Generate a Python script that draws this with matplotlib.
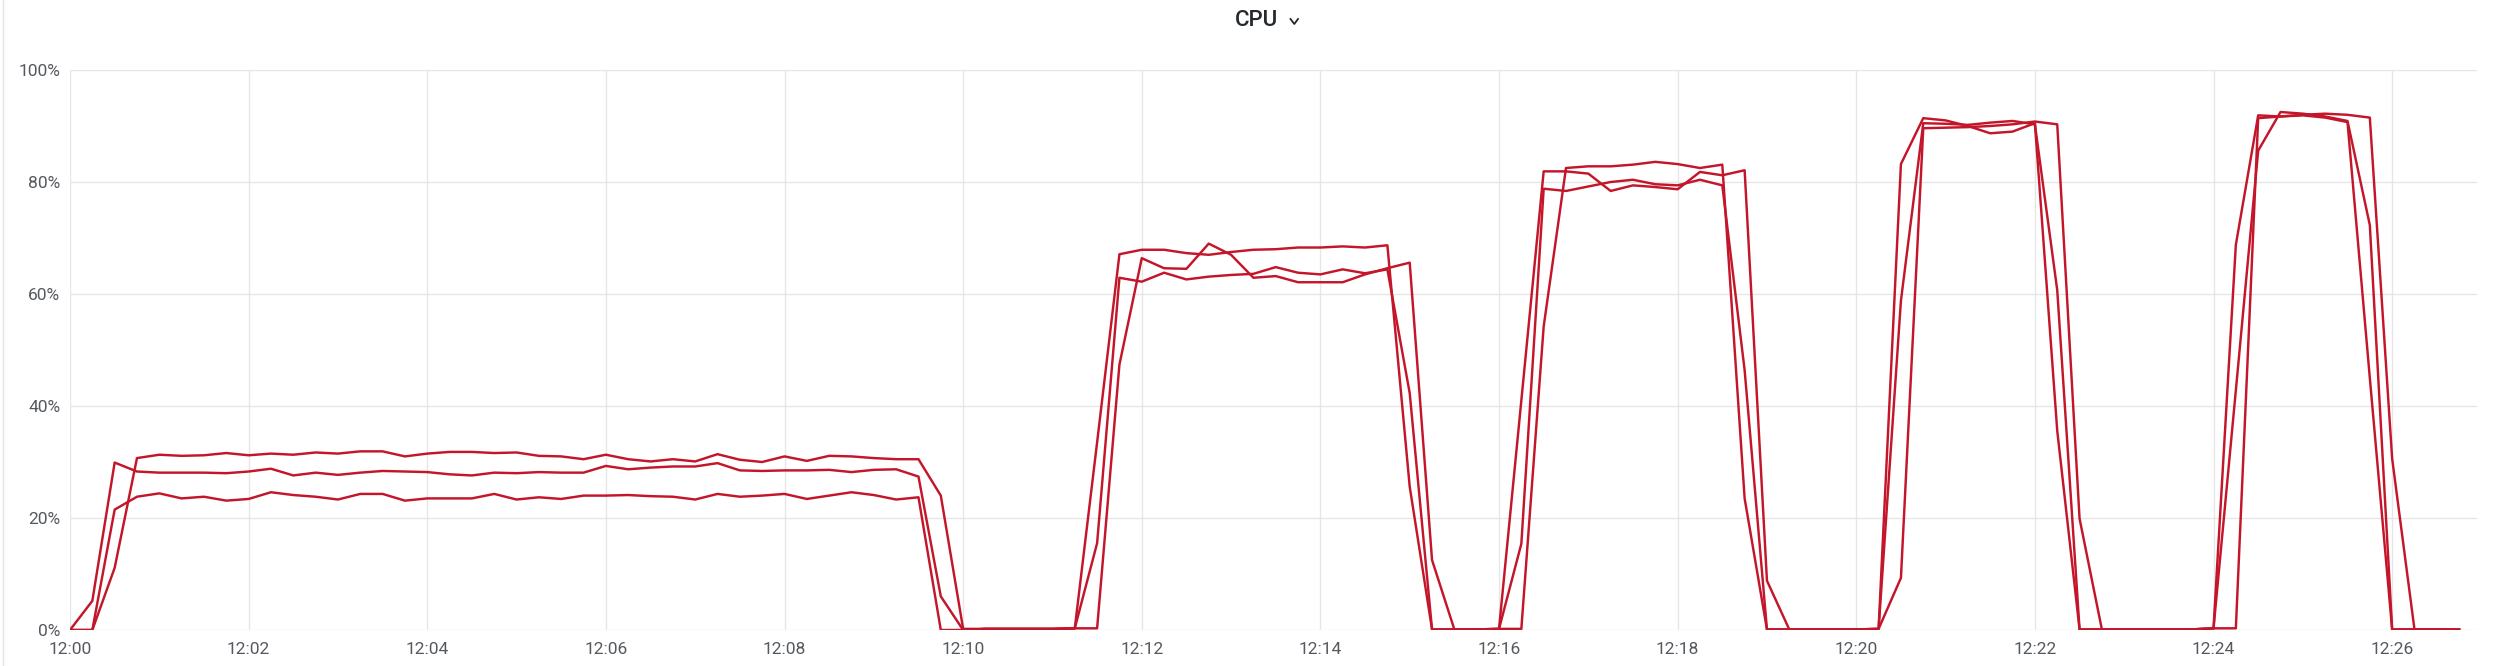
import numpy as np
import pandas as pd
import matplotlib
matplotlib.use("Agg")
import matplotlib.pyplot as plt
import matplotlib.dates as mdates
from matplotlib.lines import Line2D

plt.rcParams['font.family'] = ['Roboto', 'DejaVu Sans']

# samples every 15s from 12:00:00 to 12:26:45
times = pd.date_range("2024-01-01 12:00:00", periods=108, freq="15s")

cpu_1 = [
    0, 0, 11.1, 30.7, 31.3, 31.1, 31.2, 31.6, 31.2, 31.5, 31.3, 31.7, 31.5, 31.9,
    31.9, 31.0, 31.5, 31.8, 31.8, 31.6, 31.7, 31.1, 31.0, 30.5,
    31.3, 30.5, 30.1, 30.5, 30.1, 31.4, 30.4, 30.0, 31.0, 30.2,
    31.1, 31.0, 30.7, 30.5, 30.5, 24.0, 0.2,
    0.2, 0.2, 0.2, 0.2,
    0.3, 33.5, 67.1, 67.9, 67.9, 67.3, 67.0, 67.5, 67.9, 68.0, 68.3, 68.3, 68.5,
    68.3, 68.7, 25.6, 0.1, 0.1,
    0.1,
    0.2, 41.0, 81.9, 81.9, 81.5, 78.4, 79.4, 79.1, 78.7, 81.8, 81.2, 82.1, 8.8, 0.1,
    0.1, 0.1, 0.1, 0.2,
    83.2, 91.4, 91.0, 90.0, 88.7, 89.0, 90.5, 35.6, 0.1, 0.1,
    0.1, 0.1, 0.1, 0.1,
    0.3, 68.8, 91.9, 91.7, 92.0, 92.2, 92.0, 91.5, 30.6, 0.1, 0.1, 0.1,
]

cpu_2 = [
    0, 5.2, 29.9, 28.3, 28.1, 28.1, 28.1, 28.0, 28.3, 28.8, 27.6, 28.1, 27.7, 28.1,
    28.4, 28.3, 28.2, 27.8, 27.6, 28.1, 28.0, 28.2, 28.1, 28.1,
    29.3, 28.7, 29.0, 29.2, 29.2, 29.8, 28.5, 28.4, 28.5, 28.5,
    28.6, 28.2, 28.6, 28.7, 27.4, 6.0, 0,
    0.2, 0.2, 0.2, 0.2,
    0.3, 0.3, 47.4, 66.4, 64.6, 64.5, 69.0, 67.0, 62.9, 63.2, 62.1, 62.1, 62.1,
    63.5, 64.6, 65.6, 12.5, 0.1,
    0.1,
    0.2, 0.2, 54.2, 82.5, 82.8, 82.8, 83.1, 83.6, 83.2, 82.5, 83.1, 23.5, 0.1, 0.1,
    0.1, 0.1, 0.1, 0.2,
    58.8, 90.5, 90.4, 90.2, 90.6, 90.9, 90.3, 60.7, 0.1, 0.1,
    0.1, 0.1, 0.1, 0.1,
    0.3, 42.8, 85.6, 92.5, 92.2, 91.7, 90.9, 72.3, 0.1, 0.1, 0.1, 0.1,
]

cpu_3 = [
    0, 0, 21.5, 23.8, 24.4, 23.5, 23.8, 23.1, 23.4, 24.6, 24.1, 23.8, 23.3, 24.3,
    24.3, 23.1, 23.5, 23.5, 23.5, 24.3, 23.3, 23.7, 23.4, 24.0,
    24.0, 24.1, 23.9, 23.8, 23.3, 24.3, 23.8, 24.0, 24.3, 23.4,
    24.0, 24.6, 24.1, 23.3, 23.7, 0, 0,
    0.2, 0.2, 0.2, 0.2,
    0.3, 15.5, 62.9, 62.2, 63.8, 62.6, 63.1, 63.4, 63.6, 64.8, 63.8, 63.5, 64.4,
    63.7, 64.4, 42.3, 0.1, 0.1,
    0.1,
    0.2, 15.4, 78.8, 78.4, 79.2, 80.0, 80.4, 79.6, 79.4, 80.4, 79.4, 46.4, 0.1, 0.1,
    0.1, 0.1, 0.1, 0.2,
    9.3, 89.6, 89.7, 89.8, 90.0, 90.3, 90.8, 90.3, 19.9, 0.1,
    0.1, 0.1, 0.1, 0.1,
    0.3, 0.3, 91.4, 91.7, 91.9, 91.5, 90.7, 45.0, 0.1, 0.1, 0.1, 0.1,
]

y_ticks = [0, 20, 40, 60, 80, 100]

W, H = 2512, 666
fig = plt.figure(figsize=(W / 100, H / 100), dpi=100)
ax = fig.add_axes([70 / W, 36 / H, (2477 - 70) / W, (630 - 70) / H])

for series in (cpu_1, cpu_2, cpu_3):
    ax.plot(times, series, color="#c4162a", lw=1.75)

ax.set_xlim(times[0], times[0] + pd.Timedelta(seconds=1617))
ax.set_ylim(0, 100)
ax.set_yticks(y_ticks)
ax.set_yticklabels([f"{v}%" for v in y_ticks])
ax.xaxis.set_major_locator(mdates.MinuteLocator(byminute=range(0, 60, 2)))
ax.xaxis.set_major_formatter(mdates.DateFormatter("%H:%M"))

ax.grid(True, color="#e6e6e6", lw=1)
ax.set_axisbelow(True)
for sp in ax.spines.values():
    sp.set_visible(False)
ax.tick_params(length=0, labelsize=12.5, labelcolor="#55595e")
ax.tick_params(axis="x", pad=9)
ax.tick_params(axis="y", pad=7)

# panel title with the little dropdown chevron
fig.text(1257 / W, 1 - 21 / H, "CPU", ha="center", va="center",
         fontsize=16, color="#24292e", fontweight="medium")
fig.add_artist(Line2D([1290.5 / W, 1294.3 / W, 1298 / W],
                      [1 - 19 / H, 1 - 24 / H, 1 - 19 / H],
                      color="#24292e", lw=1.3, transform=fig.transFigure))
fig.add_artist(Line2D([2.5 / W, 2.5 / W], [0, 1], color="#e4e4e4", lw=1,
                      transform=fig.transFigure))

fig.savefig("out.png", dpi=100)
